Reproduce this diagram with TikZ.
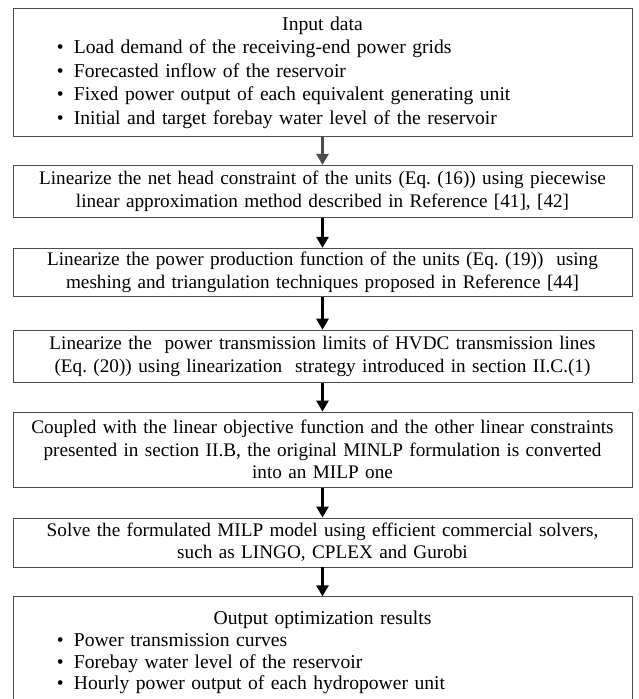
\documentclass[tikz,border=0pt]{standalone}
\usepackage{fontspec}
\setmainfont{Liberation Serif}
\usetikzlibrary{positioning,arrows.meta}

\begin{document}
\frenchspacing
\begin{tikzpicture}[x=1pt,y=1pt,
  node distance=29pt,
  stage/.style={draw=black!70, line width=0.9pt, text width=613pt,
    inner xsep=3pt, inner ysep=3pt, align=center,
    font=\fontsize{19.2}{22.5}\selectfont},
  listbox/.style={stage, align=left, font=\fontsize{19.6}{23.5}\selectfont},
  flow/.style={-{Triangle[length=11pt,width=12pt]}, line width=2.6pt}]
  \useasboundingbox (0,0) rectangle (638,-699);
  \newcommand\itembul{\hspace*{41pt}\textbullet\hspace{10pt}}
  \node[listbox, anchor=north, minimum height=128pt] (input) at (322.5,-8)
    {\makebox[\linewidth]{Input data}\\
     \itembul Load demand of the receiving-end power grids\\
     \itembul Forecasted inflow of the reservoir\\
     \itembul Fixed power output of each equivalent generating unit\\
     \itembul Initial and target forebay water level of the reservoir};
  \node[stage, below=28pt of input, minimum height=52pt] (head)
    {Linearize the net head constraint of the units (Eq. (16)) using piecewise\\
     linear approximation method described in Reference [41], [42]};
  \node[stage, below=30pt of head, minimum height=48pt] (power)
    {Linearize the power production function of the units (Eq. (19))\ \ using\\
     meshing and triangulation techniques proposed in Reference [44]};
  \node[stage, below=33pt of power, minimum height=52pt] (hvdc)
    {Linearize the\ \ power transmission limits of HVDC transmission lines\\
     (Eq. (20)) using linearization\ \ strategy introduced in section II.C.(1)};
  \node[stage, below=29pt of hvdc, minimum height=75pt] (milp)
    {Coupled with the linear objective function and the other linear constraints\\
     presented in section II.B, the original MINLP formulation is converted\\
     into an MILP one};
  \node[stage, below=30pt of milp, minimum height=49pt] (solve)
    {Solve the formulated MILP model using efficient commercial solvers,\\
     such as LINGO, CPLEX and Gurobi};
  \node[listbox, below=29pt of solve, inner ysep=14pt,
    font=\fontsize{19.6}{21.8}\selectfont] (output)
    {\makebox[\linewidth]{Output optimization results}\\
     \itembul Power transmission curves\\
     \itembul Forebay water level of the reservoir\\
     \itembul Hourly power output of each hydropower unit};
  % arrows between the stages
  \draw[flow, black!70] (input) -- (head);
  \draw[flow] (head) -- (power);
  \draw[flow] (power) -- (hvdc);
  \draw[flow] (hvdc) -- (milp);
  \draw[flow] (milp) -- (solve);
  \draw[flow] (solve) -- (output);
\end{tikzpicture}
\end{document}
